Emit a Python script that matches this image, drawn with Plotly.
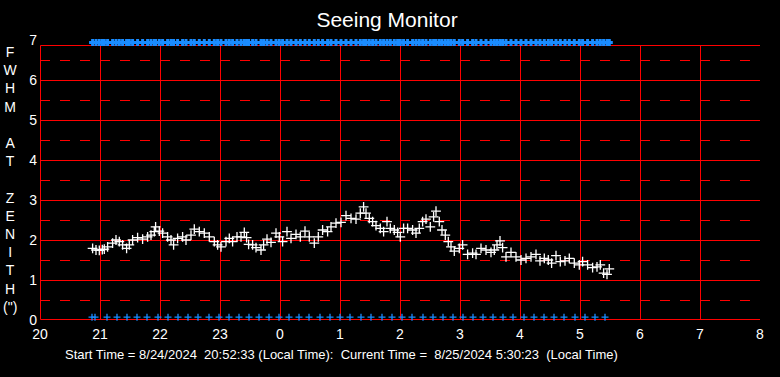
import plotly.graph_objects as go

# ---- data ----
# minutes after 20:00 local time
minutes = [52.6, 56.0, 59.3, 62.3, 64.3, 67.6, 72.6, 76.0, 79.3, 82.6, 86.6, 89.3, 92.6, 97.6, 102.6, 107.6,
           111.0, 114.3, 115.6, 119.3, 122.6, 127.6, 131.0, 133.6, 137.6, 142.6, 146.0, 151.0, 154.3, 159.3,
           164.3, 169.3, 174.3, 177.6,
           181.0, 186.0, 189.3, 192.6, 197.0, 201.0, 204.3, 206.6, 208.6, 212.6, 216.0, 221.0, 223.6, 227.0,
           231.0, 236.0, 239.3, 242.6, 247.0, 251.0, 256.0, 260.3, 265.0, 269.3, 274.3, 278.3, 282.6, 287.6,
           291.0, 296.0, 301.0, 306.0,
           311.0, 316.0, 320.3, 323.6, 326.0, 329.3, 332.6, 336.0, 340.3, 343.6, 347.0, 350.3, 354.3, 357.6,
           360.3, 363.6, 367.6, 372.6, 376.0, 379.3, 382.6, 386.0, 390.3, 393.6, 396.0, 399.3, 402.0, 405.3,
           408.3, 411.0, 414.3, 419.3, 422.6, 427.6, 432.6,
           436.0, 441.0, 446.0, 451.0, 454.3, 457.0, 460.0, 462.6, 466.0, 471.0, 476.0, 481.0, 486.0, 491.0,
           496.0, 500.0, 504.3, 508.3, 511.6, 516.0, 520.3, 525.0, 529.3, 534.3, 539.3, 542.6, 547.6, 552.6,
           557.0, 560.3, 563.6, 567.0, 569.3]
fwhm = [1.79, 1.75, 1.74, 1.76, 1.77, 1.83, 1.92, 2.00, 1.96, 1.88, 1.79, 1.88, 2.00, 2.06, 2.02, 2.08,
        2.12, 2.21, 2.33, 2.22, 2.17, 2.08, 2.00, 1.88, 2.04, 2.08, 2.00, 2.12, 2.27, 2.21,
        2.17, 2.08, 1.96, 1.88,
        1.83, 1.96, 2.04, 1.96, 2.08, 2.08, 2.19, 2.06, 1.89, 1.88, 1.81, 1.75, 1.88, 2.02,
        1.94, 2.17, 2.08, 1.96, 2.21, 2.04, 2.14, 2.08, 2.22, 2.08, 1.92, 2.08, 2.25, 2.21,
        2.33, 2.42, 2.44, 2.61,
        2.54, 2.52, 2.67, 2.83, 2.67, 2.54, 2.46, 2.36, 2.29, 2.21, 2.46, 2.29, 2.25, 2.19,
        2.08, 2.29, 2.29, 2.25, 2.17, 2.29, 2.46, 2.52, 2.33, 2.58, 2.72, 2.46, 2.25, 2.12,
        1.96, 1.83, 1.72, 1.79, 1.88, 1.64, 1.67,
        1.64, 1.79, 1.75, 1.69, 1.75, 1.88, 1.98, 1.81, 1.58, 1.69, 1.58, 1.50, 1.54, 1.58,
        1.64, 1.48, 1.54, 1.50, 1.42, 1.61, 1.46, 1.48, 1.54, 1.42, 1.38, 1.46, 1.38, 1.31,
        1.33, 1.38, 1.17, 1.14, 1.28]
# bottom blue markers, minutes after 20:00
bottom_marks = [52, 55, 67, 77, 87, 97, 107, 118, 128, 138, 148, 158, 169, 179, 189, 199, 209, 219, 229,
                239, 249, 259, 269, 280, 290, 300, 310, 321, 331, 342, 352, 362, 372, 383, 393, 403, 413,
                423, 433, 443, 453, 463, 473, 484, 494, 504, 514, 524, 535, 545, 555, 565]
hour_ticks = list(range(20, 33))
hour_labels = [str(h % 24) for h in hour_ticks]
y_ticks = list(range(0, 8))

title = "Seeing Monitor"
footer = ("Start Time = 8/24/2024\u00a0 20:52:33 (Local Time):\u00a0 Current Time =\u00a0 "
          "8/25/2024 5:30:23\u00a0 (Local Time)")
ylabel_letters = ["F", "W", "H", "M", "\u00a0", "A", "T", "\u00a0", "Z", "E", "N", "I", "T", "H", "(\")"]

RED = "#ff0000"
BLUE = "#1a8cff"
FONT = "Liberation Sans, Arial, sans-serif"

x = [20 + m / 60 for m in minutes]
xb = [20 + m / 60 for m in bottom_marks]

fig = go.Figure()
fig.add_trace(go.Scatter(x=x, y=[6.94] * len(x), mode="markers", cliponaxis=False,
                         marker=dict(symbol="cross-thin", size=5, line=dict(color=BLUE, width=3)),
                         hoverinfo="skip"))
fig.add_trace(go.Scatter(x=xb, y=[0.07] * len(xb), mode="markers", cliponaxis=False,
                         marker=dict(symbol="cross-thin", size=5, line=dict(color=BLUE, width=1.3)),
                         hoverinfo="skip"))
fig.add_trace(go.Scatter(x=x, y=fwhm, mode="markers",
                         marker=dict(symbol="cross-thin", size=7, line=dict(color="white", width=1.3))))

# half-pixel offsets so 1px lines land crisply on the pixel grid
HY = 0.5 / 40
HX = 0.5 / 60
top = 6.875
shapes = []
for v in range(1, 7):
    shapes.append(dict(type="line", xref="x", yref="y", x0=20, x1=32, y0=v - HY, y1=v - HY,
                       line=dict(color=RED, width=1), layer="below"))
for k in range(0, 7):
    v = k + 0.5
    shapes.append(dict(type="line", xref="x", yref="y", x0=20, x1=32, y0=v - HY, y1=v - HY,
                       line=dict(color=RED, width=1, dash="10px,10px"), layer="below"))
for h in hour_ticks[1:-1]:
    shapes.append(dict(type="line", xref="x", yref="y", x0=h + HX, x1=h + HX, y0=0, y1=top,
                       line=dict(color=RED, width=1), layer="below"))
shapes.append(dict(type="rect", xref="x", yref="y", x0=20 + HX, x1=32 + HX, y0=HY, y1=top - HY,
                   line=dict(color=RED, width=1), fillcolor="rgba(0,0,0,0)", layer="below"))

fig.update_layout(
    width=780, height=377,
    margin=dict(l=40, r=20, t=40, b=57, autoexpand=False),
    paper_bgcolor="black", plot_bgcolor="black",
    showlegend=False,
    font=dict(family=FONT, color="white", size=14),
    title=dict(text=title, x=387 / 780, xref="container", xanchor="center",
               y=1 - 20 / 377, yref="container", yanchor="middle",
               font=dict(size=21, color="white", family=FONT)),
    xaxis=dict(range=[20, 32], tickvals=hour_ticks, ticktext=hour_labels, showgrid=False,
               zeroline=False, showline=False, ticks="", ticklabelstandoff=4,
               tickfont=dict(size=14, color="white")),
    yaxis=dict(range=[0, 7], tickvals=y_ticks, showgrid=False, zeroline=False, showline=False,
               ticks="", ticklabelstandoff=2, tickfont=dict(size=14, color="white")),
    shapes=shapes,
    annotations=[
        dict(text="<br>".join(ylabel_letters), xref="paper", yref="paper",
             x=(10 - 40) / 720, y=(320 - 179) / 280, xanchor="center", yanchor="middle",
             showarrow=False, font=dict(size=14, color="white", family=FONT), align="center"),
        dict(text=footer, xref="paper", yref="paper", x=(341 - 40) / 720, y=(320 - 354) / 280,
             xanchor="center", yanchor="middle", showarrow=False,
             font=dict(size=13, color="white", family=FONT)),
    ],
)

fig.write_html("out.html", config={"displayModeBar": False},
               post_script="document.body.style.margin='0';document.body.style.background='black';")
